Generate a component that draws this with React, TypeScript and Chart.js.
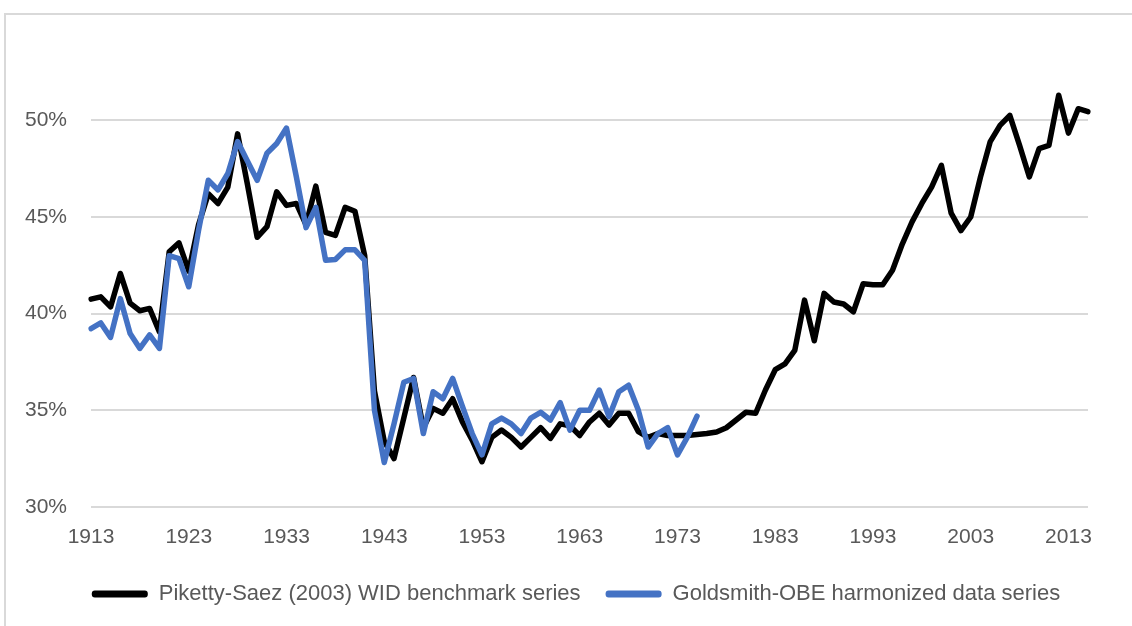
import React, { useEffect, useRef } from "react";
import { Chart, registerables } from "chart.js";

Chart.register(...registerables);

const firstYear = 1913;
const lastYear = 2015;
const years: string[] = Array.from({ length: lastYear - firstYear + 1 }, (_, i) => String(firstYear + i));

// Piketty-Saez (2003) WID benchmark series, 1913-2015 (%)
const pikettySaez: number[] = [
  40.75, 40.87, 40.35, 42.08, 40.55, 40.15, 40.27, 39.06, 43.2, 43.66,
  42.2, 44.6, 46.2, 45.7, 46.55, 49.3, 46.7, 43.95, 44.5, 46.3,
  45.6, 45.7, 44.6, 46.6, 44.2, 44.05, 45.5, 45.3, 43.0, 36.0,
  33.4, 32.5, 34.6, 36.7, 34.1, 35.1, 34.85, 35.6, 34.4, 33.46,
  32.34, 33.6, 33.98, 33.6, 33.1, 33.6, 34.1, 33.55, 34.3, 34.2,
  33.7, 34.4, 34.85, 34.24, 34.85, 34.85, 33.9, 33.6, 33.8, 33.7,
  33.7, 33.7, 33.75, 33.8, 33.88, 34.1, 34.5, 34.9, 34.85, 36.05,
  37.1, 37.4, 38.1, 40.7, 38.6, 41.05, 40.6, 40.5, 40.1, 41.55,
  41.5, 41.5, 42.25, 43.6, 44.75, 45.7, 46.55, 47.67, 45.2, 44.3,
  45.0, 47.07, 48.9, 49.74, 50.26, 48.7, 47.07, 48.54, 48.7, 51.3,
  49.34, 50.6, 50.45,
];

// Goldsmith-OBE harmonized data series, 1913-1975 (%)
const goldsmithOBE: number[] = [
  39.23, 39.52, 38.77, 40.78, 38.97, 38.2, 38.9, 38.2, 43.0, 42.85,
  41.39, 44.3, 46.9, 46.4, 47.25, 48.9, 47.9, 46.9, 48.3, 48.8,
  49.6, 47.1, 44.45, 45.5, 42.76, 42.8, 43.3, 43.3, 42.76, 35.0,
  32.3, 34.3, 36.45, 36.65, 33.8, 35.96, 35.6, 36.65, 35.2, 33.8,
  32.7, 34.3, 34.6, 34.3, 33.8, 34.6, 34.9, 34.5, 35.4, 33.98,
  35.0, 35.0, 36.05, 34.67, 35.96, 36.3, 35.0, 33.1, 33.8, 34.1,
  32.7, 33.6, 34.7,
];

const yTicks: number[] = [30, 35, 40, 45, 50];
const seriesNames: string[] = [
  "Piketty-Saez (2003) WID benchmark series",
  "Goldsmith-OBE harmonized data series",
];

const FONT = "'Liberation Sans', Arial, sans-serif";
const TEXT = "#595959";
const LEGEND_DX = 32;
const LEGEND_DY = 6;

const legendShift = {
  id: "legendShift",
  afterLayout(chart: any) {
    const l = chart.legend;
    if (!l) return;
    l.left += LEGEND_DX;
    l.right += LEGEND_DX;
    l.top += LEGEND_DY;
    l.bottom += LEGEND_DY;
  },
};

export default function App() {
  const canvasRef = useRef<HTMLCanvasElement | null>(null);

  useEffect(() => {
    if (!canvasRef.current) return;
    const blue = years.map((_, i) => (i < goldsmithOBE.length ? goldsmithOBE[i] : null));
    const chart = new Chart(canvasRef.current, {
      type: "line",
      data: {
        labels: years,
        datasets: [
          {
            label: seriesNames[1],
            data: blue,
            borderColor: "#4472C4",
            backgroundColor: "#4472C4",
            borderWidth: 5.5,
            pointRadius: 0,
            tension: 0,
            borderJoinStyle: "round",
            borderCapStyle: "round",
            spanGaps: false,
          },
          {
            label: seriesNames[0],
            data: pikettySaez,
            borderColor: "#000000",
            backgroundColor: "#000000",
            borderWidth: 5.5,
            pointRadius: 0,
            tension: 0,
            borderJoinStyle: "round",
            borderCapStyle: "round",
          },
        ],
      },
      plugins: [legendShift],
      options: {
        responsive: false,
        animation: false,
        layout: { padding: { left: 0, right: 44, top: 43, bottom: 17 } },
        plugins: {
          tooltip: { enabled: false },
          legend: {
            position: "bottom",
            reverse: true,
            labels: {
              boxWidth: 56,
              boxHeight: 7,
              padding: 25,
              color: TEXT,
              font: { family: FONT, size: 22 },
              generateLabels: (ch: any) => {
                const items = Chart.defaults.plugins.legend.labels.generateLabels(ch);
                return items.map((it: any) => ({ ...it, lineWidth: 0, borderRadius: 3 }));
              },
            },
          },
        },
        scales: {
          x: {
            type: "category",
            offset: false,
            grid: { display: false, drawTicks: false },
            border: { display: false },
            ticks: {
              autoSkip: false,
              maxRotation: 0,
              minRotation: 0,
              padding: 18,
              color: TEXT,
              font: { family: FONT, size: 21 },
              callback: (_v: any, i: number) => (i % 10 === 0 ? years[i] : ""),
            },
            afterFit: (s: any) => {
              s.height = 45;
            },
          },
          y: {
            min: 30,
            max: 54,
            afterBuildTicks: (s: any) => {
              s.ticks = yTicks.map((v) => ({ value: v }));
            },
            grid: { color: "#d9d9d9", lineWidth: 2, drawTicks: false },
            border: { display: false },
            ticks: {
              padding: 24,
              color: TEXT,
              font: { family: FONT, size: 21 },
              callback: (v: any) => v + "%",
            },
            afterFit: (s: any) => {
              s.width = 91;
            },
          },
        },
      },
    });
    return () => chart.destroy();
  }, []);

  return (
    <div style={{ position: "fixed", left: 0, top: 0, width: 1132, height: 626, background: "#ffffff", overflow: "hidden" }}>
      <canvas ref={canvasRef} width={1132} height={626} style={{ position: "absolute", left: 0, top: 0, width: 1132, height: 626 }} />
      <div
        style={{
          position: "absolute",
          left: 4,
          top: 13,
          width: 1160,
          height: 660,
          border: "2px solid #d9d9d9",
          pointerEvents: "none",
        }}
      />
    </div>
  );
}
